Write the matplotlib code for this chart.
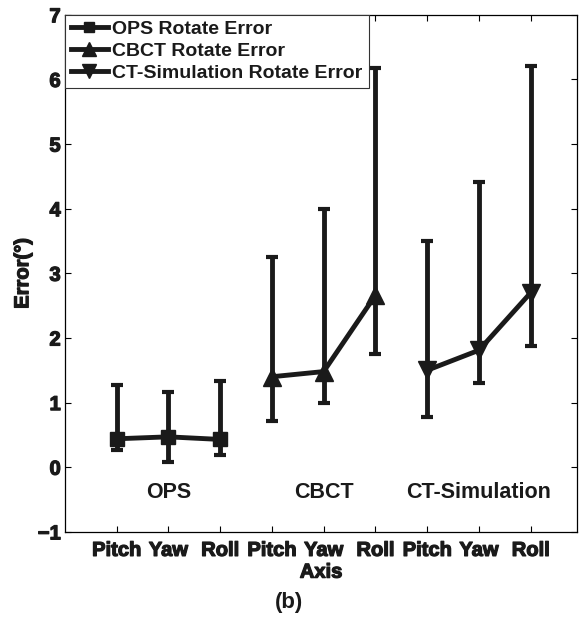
import matplotlib
matplotlib.use('Agg')
import matplotlib.pyplot as plt
from matplotlib.lines import Line2D
import matplotlib.patheffects as pe

plt.rcParams['font.family'] = ['Liberation Sans', 'DejaVu Sans']

# data
axis_labels = ['Pitch', 'Yaw', 'Roll', 'Pitch', 'Yaw', 'Roll', 'Pitch', 'Yaw', 'Roll']
groups = ['OPS', 'CBCT', 'CT-Simulation']

ops_x = [1, 2, 3]
ops_mean = [0.44, 0.47, 0.43]
ops_low = [0.26, 0.08, 0.19]
ops_high = [1.27, 1.17, 1.34]

cbct_x = [4, 5, 6]
cbct_mean = [1.40, 1.48, 2.66]
cbct_low = [0.71, 0.99, 1.75]
cbct_high = [3.26, 4.00, 6.17]

cts_x = [7, 8, 9]
cts_mean = [1.50, 1.81, 2.70]
cts_low = [0.78, 1.31, 1.88]
cts_high = [3.50, 4.42, 6.21]

col = '#1a1a1a'
thick = [pe.withStroke(linewidth=0.9, foreground=col)]  # heavier text like the original

fig = plt.figure(figsize=(5.79, 6.17), dpi=100)
ax = fig.add_axes([0.112, 0.138, 0.885, 0.838])

series = [
    (ops_x, ops_mean, ops_low, ops_high, 's', 10, 'OPS Rotate Error'),
    (cbct_x, cbct_mean, cbct_low, cbct_high, '^', 13, 'CBCT Rotate Error'),
    (cts_x, cts_mean, cts_low, cts_high, 'v', 13, 'CT-Simulation Rotate Error'),
]
handles = []
for x, m, lo, hi, mk, ms, lab in series:
    err = [[a - b for a, b in zip(m, lo)], [b - a for a, b in zip(m, hi)]]
    ax.errorbar(x, m, yerr=err, color=col, lw=3.5, elinewidth=3.5,
                capsize=4.6, capthick=3, marker=mk, ms=ms)
    handles.append(Line2D([], [], color=col, lw=3.5, marker=mk, ms=ms * 0.75, label=lab))

# group names under the curves
for name, xs in zip(groups, [ops_x, cbct_x, cts_x]):
    ax.text(xs[1], -0.39, name, ha='center', va='center', fontsize=15.5,
            fontweight='bold', color=col)

ax.set_xlim(0, 9.9)
ax.set_ylim(-1, 7)
ax.set_xticks(range(1, 10))
ax.set_xticklabels(axis_labels, fontsize=14.5, fontweight='bold')
ax.set_yticks(range(-1, 8))
ax.set_yticklabels(['\u22121'] + [str(i) for i in range(0, 8)], fontsize=14.5, fontweight='bold')
ax.tick_params(direction='in', top=True, right=True, length=4, width=0.8)
ax.tick_params(axis='x', pad=6.5)
ax.tick_params(axis='y', pad=3)
for t in ax.get_xticklabels() + ax.get_yticklabels():
    t.set_path_effects(thick)
    t.set_color(col)
for s in ax.spines.values():
    s.set_linewidth(0.9)
ax.set_xlabel('Axis', fontsize=14.5, fontweight='bold', labelpad=2, color=col,
              path_effects=thick)
ax.set_ylabel('Error(\u00b0)', fontsize=14.5, fontweight='bold', labelpad=4, color=col,
              path_effects=thick)

leg = ax.legend(handles=handles, loc='upper left', prop={'weight': 'bold', 'size': 14},
                frameon=True, fancybox=False, edgecolor='#333333', framealpha=1,
                handlelength=1.9, borderpad=0.3, labelspacing=0.22, handletextpad=0.25,
                borderaxespad=0.0)
leg.get_frame().set_linewidth(0.8)
for t in leg.get_texts():
    t.set_color(col)

fig.text(0.5, 0.023, '(b)', ha='center', va='center', fontsize=16, fontweight='bold',
         color=col)

fig.savefig('out.png', dpi=100)
